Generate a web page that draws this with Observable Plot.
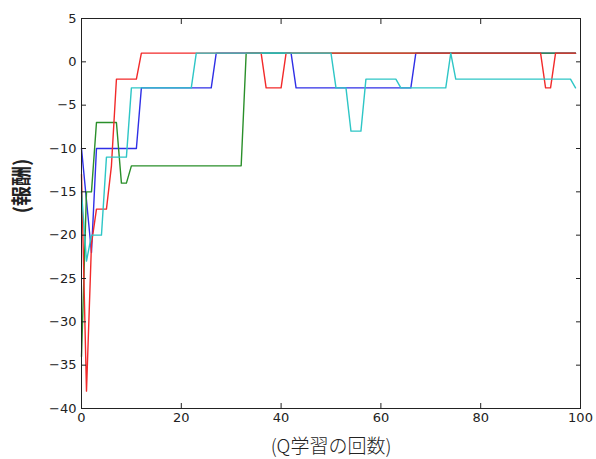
<!DOCTYPE html>
<html><head><meta charset="utf-8">
<script src="https://cdn.jsdelivr.net/npm/d3@7"></script>
<script src="https://cdn.jsdelivr.net/npm/@observablehq/plot@0.6"></script>
<style>
body{margin:0;background:#fff;}
#chart svg{font-family:"DejaVu Sans",sans-serif;}
</style>
</head><body><div id="chart"></div>
<script>
// Rewards per Q-learning episode (index 0..99)
const blueSeries = [-10,-16,-22,-10,-10,-10,-10,-10,-10,-10,-10,-10,-3,-3,-3,-3,-3,-3,-3,-3,
  -3,-3,-3,-3,-3,-3,-3,1,1,1,1,1,1,1,1,1,1,1,1,1,
  1,1,1,-3,-3,-3,-3,-3,-3,-3,-3,-3,-3,-3,-3,-3,-3,-3,-3,-3,
  -3,-3,-3,-3,-3,-3,-3,1,1,1,1,1,1,1,1,1,1,1,1,1,
  1,1,1,1,1,1,1,1,1,1,1,1,1,1,1,1,1,1,1,1];
const greenSeries = [-34,-15,-15,-7,-7,-7,-7,-7,-14,-14,-12,-12,-12,-12,-12,-12,-12,-12,-12,-12,
  -12,-12,-12,-12,-12,-12,-12,-12,-12,-12,-12,-12,-12,1,1,1,1,1,1,1,
  1,1,1,1,1,1,1,1,1,1,1,1,1,1,1,1,1,1,1,1,
  1,1,1,1,1,1,1,1,1,1,1,1,1,1,1,1,1,1,1,1,
  1,1,1,1,1,1,1,1,1,1,1,1,1,1,1,1,1,1,1,1];
const redSeries = [-13,-38,-21,-17,-17,-17,-12,-2,-2,-2,-2,-2,1,1,1,1,1,1,1,1,
  1,1,1,1,1,1,1,1,1,1,1,1,1,1,1,1,1,-3,-3,-3,
  -3,1,1,1,1,1,1,1,1,1,1,1,1,1,1,1,1,1,1,1,
  1,1,1,1,1,1,1,1,1,1,1,1,1,1,1,1,1,1,1,1,
  1,1,1,1,1,1,1,1,1,1,1,1,1,-3,-3,1,1,1,1,1];
const cyanSeries = [-15,-23,-20,-20,-20,-11,-11,-11,-11,-11,-3,-3,-3,-3,-3,-3,-3,-3,-3,-3,
  -3,-3,-3,1,1,1,1,1,1,1,1,1,1,1,1,1,1,1,1,1,
  1,1,1,1,1,1,1,1,1,1,1,-3,-3,-3,-8,-8,-8,-2,-2,-2,
  -2,-2,-2,-2,-3,-3,-3,-3,-3,-3,-3,-3,-3,-3,1,-2,-2,-2,-2,-2,
  -2,-2,-2,-2,-2,-2,-2,-2,-2,-2,-2,-2,-2,-2,-2,-2,-2,-2,-2,-3];

const seriesNames = ["blue","green","red","cyan"];
const seriesColors = {blue:"#2f2fe6", green:"#2a8f2a", red:"#f22a2a", cyan:"#2ec6c6"};
const xTicks = [0,20,40,60,80,100];
const yTicks = [-40,-35,-30,-25,-20,-15,-10,-5,0,5];
const xLabel = "(Q学習の回数)";
const yLabel = "(報酬)";

const allSeries = {blue: blueSeries, green: greenSeries, red: redSeries, cyan: cyanSeries};
const rows = seriesNames.flatMap(s => allSeries[s].map((v, i) => ({series: s, episode: i, reward: v})));

const chart = Plot.plot({
  width: 596,
  height: 459,
  marginLeft: 81,
  marginRight: 16,
  marginTop: 18,
  marginBottom: 51,
  x: {domain: [0, 100]},
  y: {domain: [-40, 5]},
  style: {fontFamily: "DejaVu Sans, sans-serif", fontSize: "13px", color: "#222", background: "#fff"},
  marks: [
    ...seriesNames.map(s => Plot.line(rows.filter(d => d.series === s), {
      x: "episode", y: "reward", stroke: seriesColors[s], strokeWidth: 1.4, curve: "linear"
    })),
    Plot.frame({stroke: "#222", strokeWidth: 1}),
    Plot.axisX({ticks: xTicks, tickSize: -5, tickPadding: 9, label: null, fontSize: 13}),
    Plot.axisX({anchor: "top", ticks: xTicks, tickSize: -5, tickPadding: 9, label: null, tickFormat: () => ""}),
    Plot.axisY({ticks: yTicks, tickSize: -5, tickPadding: 10, label: null, fontSize: 13}),
    Plot.axisY({anchor: "right", ticks: yTicks, tickSize: -5, tickPadding: 10, label: null, tickFormat: () => ""}),
    Plot.text([xLabel], {frameAnchor: "bottom", dy: 44, fontSize: 19, fill: "#222",
      fontFamily: "Noto Sans CJK JP", fontWeight: 300}),
    Plot.text([yLabel], {frameAnchor: "left", dx: -59, rotate: -90, fontSize: 20, fill: "#222",
      fontFamily: "Noto Sans CJK JP", fontWeight: "bold"})
  ]
});
document.getElementById("chart").appendChild(chart);
</script>
</body></html>
